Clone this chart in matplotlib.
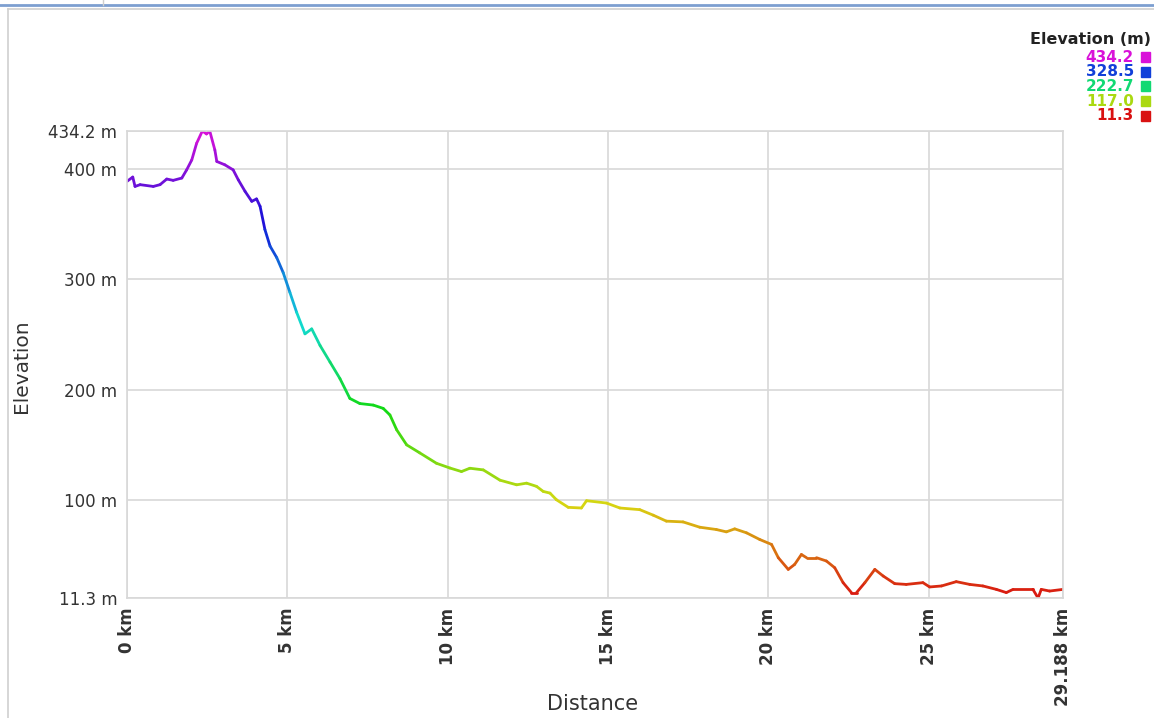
import numpy as np
import matplotlib
matplotlib.use("Agg")
import matplotlib.pyplot as plt
from matplotlib.collections import LineCollection
from matplotlib.colors import hsv_to_rgb, Normalize, LinearSegmentedColormap
from matplotlib.lines import Line2D
from matplotlib.patches import Rectangle

plt.rcParams['font.family'] = ['DejaVu Sans']

# elevation profile
dist_km = [0.00, 0.18, 0.25, 0.41, 0.82, 1.03, 1.24, 1.44, 1.71, 1.86, 2.02, 2.17,
           2.35, 2.48, 2.58, 2.74, 2.80, 3.05, 3.31, 3.47, 3.68, 3.89, 4.04, 4.15,
           4.30, 4.46, 4.67, 4.87, 5.08, 5.29, 5.55, 5.76, 6.02, 6.33, 6.64, 6.95,
           7.26, 7.68, 7.99, 8.20, 8.41, 8.72, 9.13, 9.65, 10.07, 10.43, 10.69, 11.11,
           11.63, 12.15, 12.46, 12.77, 12.98, 13.19, 13.39, 13.76, 14.17, 14.33, 14.95,
           15.37, 15.99, 16.41, 16.82, 17.34, 17.86, 18.38, 18.69, 18.95, 19.32, 19.73,
           20.10, 20.31, 20.62, 20.82, 21.03, 21.19, 21.50, 21.81, 22.07, 22.33, 22.59,
           22.75, 23.01, 23.32, 23.58, 23.94, 24.30, 24.82, 25.03, 25.40, 25.86, 26.28,
           26.69, 27.11, 27.42, 27.63, 28.25, 28.41, 28.51, 28.77, 29.188]
elev_m = [388.6, 392.5, 384.0, 385.6, 384.0, 385.6, 390.7, 389.5, 391.6, 399.0, 408.0, 423.0,
          434.2, 431.5, 434.2, 417.0, 406.6, 403.6, 399.0, 390.0, 379.6, 370.5, 372.7, 366.0,
          345.0, 330.0, 319.5, 306.0, 288.0, 270.0, 250.5, 255.0, 240.0, 225.0, 210.0, 192.0,
          187.4, 186.0, 183.0, 177.0, 163.6, 150.0, 142.7, 133.3, 129.0, 125.8, 128.8, 127.3,
          118.0, 113.8, 115.3, 112.4, 107.8, 106.3, 100.3, 93.4, 92.8, 99.4, 97.3,
          92.8, 91.3, 86.3, 80.9, 80.2, 75.4, 73.3, 71.2, 73.9, 70.3, 64.3,
          59.8, 47.8, 37.2, 41.7, 50.7, 47.8, 47.8, 44.8, 38.7, 25.2, 16.2,
          16.2, 25.2, 37.2, 31.2, 24.3, 23.6, 25.2, 21.3, 22.2, 26.1, 23.6,
          22.2, 19.1, 16.2, 19.1, 19.1, 11.3, 19.1, 17.6, 19.1]

y_ticks = [11.3, 100, 200, 300, 400, 434.2]
y_tick_labels = ['11.3 m', '100 m', '200 m', '300 m', '400 m', '434.2 m']
x_ticks = [0, 5, 10, 15, 20, 25, 29.188]
x_tick_labels = ['0 km', '5 km', '10 km', '15 km', '20 km', '25 km', '29.188 km']
legend_values = ['434.2', '328.5', '222.7', '117.0', '11.3']

e_min, e_max = 11.3, 434.2

# red -> magenta hue ramp, slightly darkened
hues = np.linspace(0, 300 / 360, 64)
ramp = hsv_to_rgb(np.column_stack([hues, np.full(64, 0.92), np.full(64, 0.85)]))
cmap = LinearSegmentedColormap.from_list('elev', ramp)
norm = Normalize(e_min, e_max)

fig = plt.figure(figsize=(11.54, 7.18), dpi=100)
ax = fig.add_axes([127 / 1154, 1 - 598 / 718, (1063 - 127) / 1154, (598 - 131) / 718])

x = np.array(dist_km)
y = np.array(elev_m)
pts = np.column_stack([x, y]).reshape(-1, 1, 2)
segs = np.concatenate([pts[:-1], pts[1:]], axis=1)
lc = LineCollection(segs, cmap=cmap, norm=norm, linewidth=2.0, capstyle='round', joinstyle='round')
lc.set_array((y[:-1] + y[1:]) / 2)
ax.add_collection(lc)

ax.set_xlim(0, 29.188)
ax.set_ylim(e_min, e_max)
ax.set_xticks(x_ticks)
ax.set_xticklabels(x_tick_labels, rotation=90, fontsize=12, fontweight='bold', color='#333333')
ax.set_yticks(y_ticks)
ax.set_yticklabels(y_tick_labels, fontsize=12, color='#333333')
ax.tick_params(length=0, pad=7)
ax.grid(True, color='#d8d8d8', linewidth=1.2)
for s in ax.spines.values():
    s.set_color('#d8d8d8')
    s.set_linewidth(1.2)

fig.text(22 / 1154, 1 - 366 / 718, 'Elevation', rotation=90, fontsize=14.5,
         color='#333333', ha='center', va='center')
fig.text(593 / 1154, 1 - 704 / 718, 'Distance', fontsize=15,
         color='#333333', ha='center', va='center')

# legend
fig.text(1151 / 1154, 1 - 40 / 718, 'Elevation (m)', fontsize=11.5, fontweight='bold',
         color='#222222', ha='right', va='center')
for i, val in enumerate(legend_values):
    yy = 1 - (57 + i * 14.7) / 718
    col = cmap(norm(float(val)))
    fig.text(1134 / 1154, yy, val, fontsize=11, fontweight='bold', color=col,
             ha='right', va='center')
    fig.patches.append(Rectangle((1141 / 1154, yy - 5 / 718), 9 / 1154, 10 / 718,
                                 transform=fig.transFigure, color=col, figure=fig))

# window chrome
fig.lines.append(Line2D([0, 1], [1 - 5 / 718, 1 - 5 / 718], transform=fig.transFigure,
                        color='#7d9fd0', linewidth=2))
fig.lines.append(Line2D([8 / 1154, 1], [1 - 9 / 718, 1 - 9 / 718], transform=fig.transFigure,
                        color='#cfcfcf', linewidth=1.2))
fig.lines.append(Line2D([8 / 1154, 8 / 1154], [0, 1 - 9 / 718], transform=fig.transFigure,
                        color='#cfcfcf', linewidth=1.2))
fig.lines.append(Line2D([103 / 1154, 103 / 1154], [1 - 5 / 718, 1], transform=fig.transFigure,
                        color='#cfcfcf', linewidth=1))

fig.savefig('out.png', dpi=100)
